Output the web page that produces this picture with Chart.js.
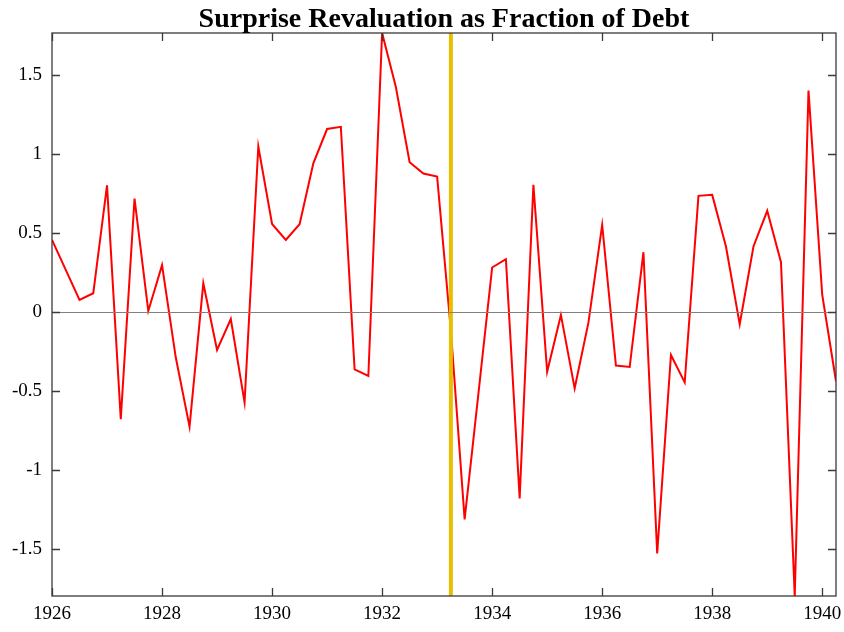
<!DOCTYPE html>
<html>
<head>
<meta charset="utf-8">
<script src="https://cdn.jsdelivr.net/npm/chart.js@4"></script>
<style>
  html, body { margin: 0; padding: 0; background: #fff; }
  #wrap { width: 844px; height: 632px; }
</style>
</head>
<body>
<div id="wrap"><canvas id="chart" width="844" height="632"></canvas></div>
<script>
/* ---------- Data ---------- */
const TITLE = "Surprise Revaluation as Fraction of Debt";
const START_YEAR = 1926;          // first quarter, 1926Q1
const MARK_YEAR = 1933.25;        // vertical marker
const xTicks = [1926, 1928, 1930, 1932, 1934, 1936, 1938, 1940];
const yTicks = [-1.5, -1, -0.5, 0, 0.5, 1, 1.5];

// quarterly values, 1926Q1 .. 1940Q2
const revaluation = [
  0.455, 0.265, 0.075, 0.117, 0.80, -0.68, 0.717, 0.005, 0.295, -0.29,
  -0.728, 0.18, -0.242, -0.046, -0.574, 1.046, 0.556, 0.455, 0.554, 0.94,
  1.157, 1.171, -0.365, -0.407, 1.765, 1.423, 0.947, 0.875, 0.856, -0.12,
  -1.315, -0.52, 0.28, 0.333, -1.182, 0.804, -0.38, -0.02, -0.485, -0.069,
  0.55, -0.341, -0.35, 0.377, -1.53, -0.274, -0.447, 0.734, 0.74, 0.413,
  -0.079, 0.413, 0.639, 0.314, -1.80, 1.40, 0.106, -0.44
];

const points = revaluation.map((v, i) => ({ x: START_YEAR + i / 4, y: v }));
const yMin = Math.min(...revaluation);
const yMax = Math.max(...revaluation);
const xMax = points[points.length - 1].x;

/* ---------- Styles ---------- */
const FONT = "'Liberation Serif', 'Times New Roman', serif";
const FRAME = "#3a3a3a";
const TICK_LEN = 8;

/* ---------- Frame, inward ticks, zero line, title ---------- */
const framePlugin = {
  id: "frame",
  afterDatasetsDraw(c) {
    const { ctx, chartArea: a, scales: { x, y } } = c;
    ctx.save();

    // zero line
    const y0 = Math.round(y.getPixelForValue(0)) + 0.5;
    ctx.strokeStyle = "#808080";
    ctx.lineWidth = 1;
    ctx.beginPath();
    ctx.moveTo(a.left, y0);
    ctx.lineTo(a.right, y0);
    ctx.stroke();

    // box
    ctx.strokeStyle = FRAME;
    ctx.lineWidth = 1.3;
    ctx.strokeRect(a.left, a.top, a.right - a.left, a.bottom - a.top);

    // ticks on all four sides, pointing in
    ctx.beginPath();
    xTicks.forEach(t => {
      const px = Math.round(x.getPixelForValue(t)) + 0.5;
      ctx.moveTo(px, a.bottom); ctx.lineTo(px, a.bottom - TICK_LEN);
      ctx.moveTo(px, a.top); ctx.lineTo(px, a.top + TICK_LEN);
    });
    yTicks.forEach(t => {
      const py = Math.round(y.getPixelForValue(t)) + 0.5;
      ctx.moveTo(a.left, py); ctx.lineTo(a.left + TICK_LEN, py);
      ctx.moveTo(a.right, py); ctx.lineTo(a.right - TICK_LEN, py);
    });
    ctx.stroke();

    // title
    ctx.fillStyle = "#000";
    ctx.font = "bold 28px " + FONT;
    ctx.textAlign = "center";
    ctx.textBaseline = "alphabetic";
    ctx.fillText(TITLE, (a.left + a.right) / 2, 27);
    ctx.restore();
  }
};

/* ---------- Chart ---------- */
new Chart(document.getElementById("chart"), {
  type: "line",
  data: {
    datasets: [
      {
        data: [{ x: MARK_YEAR, y: yMin }, { x: MARK_YEAR, y: yMax }],
        borderColor: "#E8BF00",
        borderWidth: 4,
        pointRadius: 0,
        order: 1
      },
      {
        data: points,
        borderColor: "#FF0000",
        borderWidth: 2,
        pointRadius: 0,
        tension: 0,
        order: 2
      }
    ]
  },
  options: {
    responsive: false,
    animation: false,
    layout: { padding: { top: 33, right: 8, bottom: 0, left: 0 } },
    plugins: { legend: { display: false }, tooltip: { enabled: false } },
    scales: {
      x: {
        type: "linear",
        min: START_YEAR,
        max: xMax,
        afterBuildTicks: s => { s.ticks = xTicks.map(v => ({ value: v })); },
        afterFit: s => { s.height = 36; s.paddingRight = 0; },
        grid: { display: false, drawTicks: false },
        border: { display: false },
        ticks: {
          color: "#000",
          padding: 7,
          maxRotation: 0,
          autoSkip: false,
          callback: v => String(v),
          font: { family: FONT, size: 19 }
        }
      },
      y: {
        min: yMin,
        max: yMax,
        afterBuildTicks: s => { s.ticks = yTicks.map(v => ({ value: v })); },
        afterFit: s => { s.width = 52; },
        grid: { display: false, drawTicks: false },
        border: { display: false },
        ticks: {
          color: "#000",
          padding: 10,
          callback: v => String(v),
          font: { family: FONT, size: 19 }
        }
      }
    }
  },
  plugins: [framePlugin]
});
</script>
</body>
</html>
